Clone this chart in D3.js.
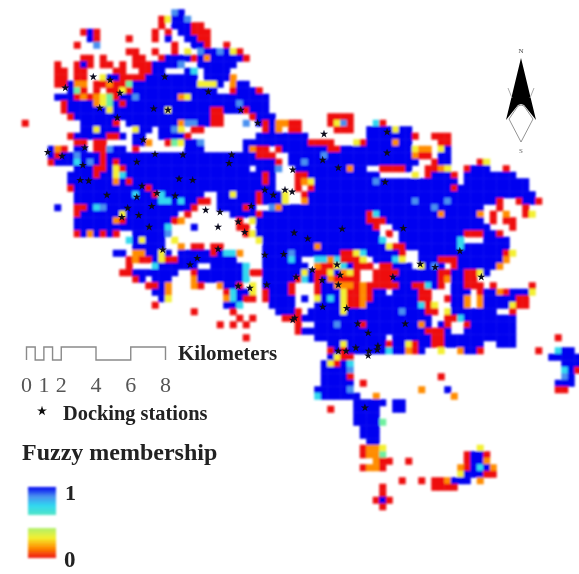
<!DOCTYPE html>
<html lang="en">
<head>
<meta charset="utf-8">
<title>Fuzzy membership map</title>
<script src="https://d3js.org/d3.v7.min.js"></script>
<style>
    html, body { margin: 0; padding: 0; background: #fff; }
    svg { display: block; }
    text { font-family: "Liberation Serif", serif; }
</style>
</head>
<body>
<div id="container"></div>
<script>
const w = 579, h = 574;

// membership classes
const membershipCodes = ["r", "o", "y", "g", "c", "l", "B"];
const membershipValues = [0, 0.25, 0.4, 0.55, 0.7, 0.85, 1];
const membershipColors = ["#ee1111", "#ff8c00", "#f4f030", "#70f0a0", "#30d8f0", "#4a90f0", "#0000f0"];

// one string per raster row, "startColumn:cells", later runs overwrite earlier ones, "." clears a cell
const gridRows = [
    "",
    "23:lB",
    "21:ryBBl",
    "21:r 23:BBBrr",
    "9:rBr 20:r 22:r 24:BBrrr",
    "10:Br 16:r 20:r 22:B 25:BBrr",
    "8:r 11:l 23:r 26:BBr 31:r",
    "16:rr 20:r 23:r 25:y 27:lBBlByr",
    "9:rr 12:r 17:rr 21:rBBBBr 27:BoBBBBBr",
    "5:r 8:rBr 12:rr 15:r 17:rrrBBBBl 27:BBBBBB",
    "5:rr 8:rr 14:rr 18:rr 20:BB 25:Bc 28:BBBB",
    "5:rr 8:rr 12:yBBrrrrBBBBBBBB 28:BBBBo",
    "5:rrBoo 11:rrorrgBBBBBBBBBByyyB 32:oBB",
    "7:Bgr 11:r 13:rryrBBBBBBBBBBBBB 32:rBBBr",
    "5:BBBroroygrBBlBBBBBBoyBBBBBBBBBBBB",
    "6:rBBBBoygBrBBBBBBBBBBBBBBBBBlBBBB",
    "6:rBBBBBByBBBBBBBByBBBBBBrrBBBrBBB",
    "7:rBBBBBBBBBBBBBBBBBBBBBrr 35:rBBB 47:rrrr",
    "0:r 9:BBBBBr 16:BBBBBBBBollBBrr 34:l 36:BrBoorr 47:rylr 54:cr",
    "9:BByBBB 17:yBB 21:BBly 26:rr 37:rBo 41:rr 48:rrr 53:BBBByBB",
    "7:rBBBBBrrB 17:BB 21:BBBBr 36:BBBBBBBB 53:BBBBBBBr 63:rrr",
    "8:rr 11:rr 17:BBo 22:rgyBBl 34:BBBBBBB 41:BBBrrrr 51:yr 53:BBBBoBB 64:rr",
    "4:Bor 8:BB 11:rrlBB 17:r 25:BBB 34:Borr.r 40:BB 41:BBBBBBrrBBBBBBBBBBByoo 64:yB",
    "4:BrBBlBBBrBBBBBBBBBBBBBBBBBBBBBBBrrr..BB 41:BBBBBlBBBBBBBBBBBBB 60:orr 64:BB",
    "4:rBBBcBlBrBrBBBBBBBBBBBBBBBBBBBBBBBBr..BB 41:BBlBBBBBBBBBBBBBBBBB 63:rBB 70:ry",
    "8:BBBrrByrBBBBBBBBBBBBBBBBBBBBBB 41:BBBBBBBBBoBB 55:rrrrB 62:rroy 68:rBBB 74:r 35:. 38:Bl..",
    "7:BBBBrBBycBBBBBBBBBBBBBBBBBBBBBr 41:BBBBBBBBBBBBBB 60:y 62:rBBBr 68:BBBBBBBB 37:rB...rr",
    "7:BBBBBBBoBrBBBBBBBBBBBBBBBBBBBBo 42:oBBBBBBBBBBBlBBBBBBBBBBBB 68:BBBBBBBBBB 37:rB...roy",
    "7:rBBBBBBBBBBBrBBBBBBBBBBBBBBBBB 42:ooBBBBBBBBBBBBBBBBBBBBBBr 67:BBBBBBBBBBB 37:BB...r.r",
    "8:BBBBBBBBBcBBrcBBBBBB 30:BByBBB 43:BBBBBBBBBBBBBBBBBBBBBBBBBBBBBBBBBBBB 36:rBBBy..r",
    "8:BBBBBBBBBBBBBccBcBBrr 30:BBBBBB 44:BBBBBBBBBBBBBBBBlBBBBlBBBBBBBr 76:rBBr 36:rBBBy..o",
    "5:B 8:rrBclBBBBBBBBBBBBBr 30:BBBB 41:BBBBBBBBBBBBBBBBBBBBBBlBBBBBBB 73:r 77:r 34:rB..loBB",
    "8:rBBBBBByBBBBBBBB 25:r 32:BBBBBBBBBBBBBBBBBBBBBrcBBBBBBBBBoBBBBBo 72:r 74:o 77:ry 36:r",
    "8:BBBBBBorBBBBBBBro 33:r 35:y 36:BBBBBBBBBBBBBBBBBrrrBBBBBBBBBBBBBBB 72:r 74:rr",
    "8:BBBBBBBBBBBBBBc 26:B 33:rr 36:BBBBBBBBBBBBBBBBBBr 57:BBBBBBBBBBBBBBB 75:r",
    "8:rBoBrBr 17:BBBBBl 34:ry 36:BBBBBBBBBBBBBBBBBBB 56:r 58:BBBBBBBBBBrrrBBr",
    "16:cByBBB 23:y 36:yBBBBBBBBBBBBBBBBBBc 58:BBBBBBBBBc 71:BBBB",
    "17:BBBBB 24:o 26:rr 29:rr 36:.BBBBBBBBoBBBBBBBBBByrrBBBBBBBBcBBBBBBB",
    "14:BB 17:ooBByB 24:BBBBBrBcco 37:BBBBlBBBBBBBrrycBBBBBr 61:BBBBBBBBBBBBBry",
    "16:rorrByrrBBBBBBBBB 37:BBBBc 42:B..ccocrrry.BBBcy 61:BBBrrr 67:BBBBBBBo",
    "16:r 20:cBBBBBB 29:BBBBBc 37:BBBBBBB.orrycBrrr.rrBBB.yBlB 66:rBBBBBBo",
    "15:rrBBBBBBB 26:rBBBBBBBcrr 37:BBBBBByBrryBoyr..rrrrBBBBBB 64:rrBBrryB",
    "17:rB 20:BBB 26:oBBBBBBBc 37:BBBBBrcBrBorrrr..rrrBBBBBBB 64:roBB 68:rr",
    "19:rrBo 26:or 30:oBBr 35:y 37:BBBBr...rBBooororrrrrBBrrcBr 66:BBrrr 72:r 78:r",
    "20:BB 22:o 31:rcBBr 35:y 37:rBBBr...rBBByrrorBB.BBBBrr 66:BBB 70:rBBorBBBy",
    "21:By 31:ocBrr 37:rBBBB.B.yBcByrrorBBBBBBBrr 65:rBBo 70:oBBBBBrr",
    "20:r 31:BBc 38:BBBB 45:BBBByrroBBBBBBBBcry 66:BBo 70:oBBBByrr",
    "26:r 32:r 39:BBB 42:r 44:BBBBByBBBBBBBBlBBBrr 65:yBBBBBBB 75:r",
    "33:r 35:r 40:rr 42:rBBBBBBBBBBBBBBBBBBBB 65:rrcBBBBBBBB",
    "30:r 32:r 34:r 42:r 45:BBBlBBBrBBBBBBBBoB 64:Br 68:rBBBBBBB",
    "42:rBBBBBBBBBBBBBBBBBBBrrrB 68:BBBBBBBB",
    "34:r 45:BBBBBBBBBBB 57:BBBBBBrrBBBBBBBBBBB 82:r",
    "47:BByBBBBBBrBByrBBrrBBBBBB 73:BBB",
    "47:rBrBBBBBBcBBorB 64:y 67:oBBr 79:r 82:cBB",
    "47:Byrr 81:BBBBB",
    "46:ByrBc 83:BBB",
    "46:BBBBl 83:cBr",
    "46:BBBBr 64:r 83:lB",
    "46:BBBBB 52:r 82:BBB",
    "45:BBBBBl 61:o 65:B 82:rr",
    "45:cBBBBBB 54:o 66:o",
    "51:BBBBB 57:BB",
    "47:r 51:BBBB 57:BB",
    "51:BBBB",
    "51:BBBB 55:g",
    "52:BBB",
    "52:BBB",
    "53:BB",
    "52:rooy 70:y",
    "52:roog 68:rBBr",
    "54:orr 59:r 68:rBBo",
    "52:roor 67:orBcBo",
    "67:yBBBrr",
    "58:r 61:r 63:rroBBB 70:o",
    "55:r 63:rrrr",
    "55:r",
    "54:rBr",
    "55:r"
];

// docking stations in raster column / row units
const stations = [
    [10.5,10.9],[13.1,11.4],[6.2,12.6],[21.5,10.9],[11.5,15.7],[14.6,13.4],[19.8,15.8],[22,16],
    [33.2,16],[35.8,18],[14.2,17.2],[18.2,20.6],[3.5,22.5],[5.7,23.1],[9.2,21.8],[20,22.8],
    [8.9,24.5],[17.2,24],[24.3,22.9],[31.4,24.2],[31.8,22.9],[28.2,13.2],[46,19.7],[45.8,23.7],
    [48.2,24.9],[55.7,19.4],[55.7,22.6],[55.4,27.1],[41.2,25.2],[41.1,28.6],[8.5,26.8],[9.8,26.9],
    [18,27.7],[12.6,29.1],[17.2,29.4],[20.3,28.8],[23.1,29.2],[23.7,26.6],[25.8,26.8],[19.5,30.8],
    [15.8,31.1],[17.5,32.2],[14.9,32.5],[19.1,34],[27.8,31.4],[30,31.7],[29.7,34],[32.8,33.2],
    [33.8,34.8],[21.2,37.5],[29.7,37.4],[26.5,38.8],[25.4,39.8],[34.8,30.8],[36.9,28.3],[38.2,29.1],
    [40,28.3],[36.9,38.3],[39.8,38.2],[34.6,43.4],[32.8,43.1],[37.2,42.9],[41.5,48],[41.4,34.9],
    [43.5,35.8],[48.8,34.3],[58.2,34.2],[48,39.8],[48.5,41.4],[48.2,42.9],[44.2,40.6],[41.7,41.7],
    [45.7,42.2],[56.6,41.7],[60.8,39.7],[63.1,40.2],[70.2,41.7],[66.9,37.7],[45.8,46.3],[49.5,46.5],
    [51.2,48.9],[58.5,48.9],[52.8,50.3],[41.2,48.3],[52.9,53.1],[49.4,53.1],[54.3,52.3],[48.2,53.1],
    [52.8,53.8],[54.2,52.9],[50.9,52.6],[52.3,61.8]
];

// scale bar
const barSteps = [0, 0.5, 1, 1.5, 2, 4, 6, 8];
const barTicks = [0, 1, 2, 4, 6, 8];

// legend ramps, membership from top to bottom
const rampHigh = [1, 0.85, 0.7, 0.62];
const rampLow = [0.48, 0.4, 0.25, 0];

const svg = d3.select("#container").append("svg").attr("width", w).attr("height", h);
const defs = svg.append("defs");
function addBlur(id, amount) {
    defs.append("filter").attr("id", id).attr("x", "-5%").attr("y", "-5%").attr("width", "110%").attr("height", "110%")
        .append("feGaussianBlur").attr("stdDeviation", amount);
}
addBlur("soft", 0.9);
addBlur("softText", 0.35);

const x = d3.scaleLinear().domain([0, 85]).range([25, 577.5]);
const y = d3.scaleLinear().domain([0, 77]).range([6, 506.5]);
const cw = x(1) - x(0);
const color = d3.scaleLinear().domain(membershipValues).range(membershipColors);
const valueOf = new Map(membershipCodes.map((c, i) => [c, membershipValues[i]]));

// expand the runs into cells
const cells = new Map();
gridRows.forEach(function (line, row) {
    line.split(" ").filter(Boolean).forEach(function (run) {
        const parts = run.split(":");
        Array.from(parts[1]).forEach(function (ch, k) {
            const col = +parts[0] + k;
            if (valueOf.has(ch)) cells.set(row + "," + col, {row: row, col: col, v: valueOf.get(ch)});
            else cells.delete(row + "," + col);
        });
    });
});

const map = svg.append("g").attr("filter", "url(#soft)");
map.selectAll("rect")
    .data(Array.from(cells.values()))
    .enter()
    .append("rect")
    .attr("x", d => x(d.col) - cw / 2)
    .attr("y", d => y(d.row) - cw / 2)
    .attr("width", cw + 0.5)
    .attr("height", cw + 0.5)
    .attr("fill", d => color(d.v));

const star = d3.symbol().type(d3.symbolStar);
svg.append("g").attr("filter", "url(#softText)").selectAll("path")
    .data(stations)
    .enter()
    .append("path")
    .attr("d", star.size(20))
    .attr("transform", d => "translate(" + x(d[0]) + "," + y(d[1]) + ")")
    .attr("fill", "#0a0a1e");

const labels = svg.append("g").attr("filter", "url(#softText)");

// scale bar
const km = d3.scaleLinear().domain([0, 8]).range([26.5, 165.5]);
const barTop = 347, barBottom = 360;
const barLine = [[0, barBottom]];
barSteps.slice(0, -1).forEach(function (s, i) {
    const yy = i % 2 === 0 ? barTop : barBottom;
    barLine.push([s, yy], [barSteps[i + 1], yy]);
});
barLine.push([8, barBottom]);
labels.append("path")
    .attr("d", d3.line().x(d => km(d[0])).y(d => d[1])(barLine))
    .attr("fill", "none").attr("stroke", "#8a8a8a").attr("stroke-width", 1.4);
labels.selectAll(".tick-label")
    .data(barTicks)
    .enter()
    .append("text")
    .attr("class", "tick-label")
    .attr("x", d => km(d))
    .attr("y", 392)
    .attr("text-anchor", "middle")
    .attr("font-size", 22)
    .attr("fill", "#555")
    .text(d => d);
labels.append("text").attr("x", 178).attr("y", 360).attr("font-size", 21).attr("font-weight", "bold").attr("fill", "#222").text("Kilometers");

labels.append("path").attr("d", d3.symbol().type(d3.symbolStar).size(30)()).attr("transform", "translate(42,411)").attr("fill", "#111");
labels.append("text").attr("x", 63).attr("y", 420).attr("font-size", 20.4).attr("font-weight", "bold").attr("fill", "#222").text("Docking stations");
labels.append("text").attr("x", 22).attr("y", 460).attr("font-size", 24).attr("font-weight", "bold").attr("fill", "#222").text("Fuzzy membership");

// legend ramps
function ramp(id, values, top, bottom) {
    const g = defs.append("linearGradient").attr("id", id).attr("x1", 0).attr("y1", 0).attr("x2", 0).attr("y2", 1);
    values.forEach(function (v, i) {
        g.append("stop").attr("offset", i / (values.length - 1)).attr("stop-color", color(v));
    });
    svg.append("rect").attr("x", 28).attr("y", top).attr("width", 28).attr("height", bottom - top)
        .attr("fill", "url(#" + id + ")").attr("filter", "url(#soft)");
}
ramp("rampHigh", rampHigh, 487, 515);
ramp("rampLow", rampLow, 528, 558);
labels.append("text").attr("x", 65).attr("y", 500).attr("font-size", 22).attr("font-weight", "bold").attr("fill", "#222").text("1");
labels.append("text").attr("x", 64).attr("y", 567).attr("font-size", 23).attr("font-weight", "bold").attr("fill", "#222").text("0");

// north arrow
const arrow = labels.append("g").attr("transform", "translate(521,0)");
arrow.append("path").attr("d", "M0,58 L-15,120 L-3,105 L0,104 L3,105 L15,120 Z").attr("fill", "#000");
arrow.append("path").attr("d", "M-12,119 L0,142 L12,119 L3,106 L0,105 L-3,106 Z").attr("fill", "#fff").attr("stroke", "#777").attr("stroke-width", 0.8);
arrow.append("path").attr("d", "M-13,88 L-9,98 M13,88 L9,98").attr("stroke", "#aaa").attr("stroke-width", 1).attr("fill", "none");
arrow.append("text").attr("x", 0).attr("y", 53).attr("text-anchor", "middle").attr("font-size", 7).attr("fill", "#444").text("N");
arrow.append("text").attr("x", 0).attr("y", 153).attr("text-anchor", "middle").attr("font-size", 7).attr("fill", "#666").text("S");
</script>
</body>
</html>
